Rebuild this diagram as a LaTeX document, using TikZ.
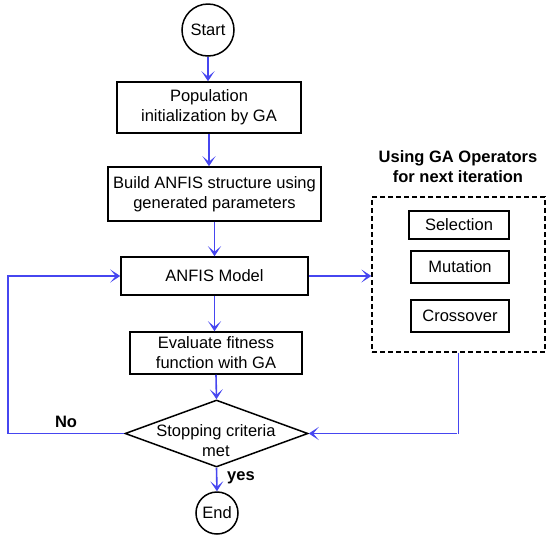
\documentclass[tikz,border=0pt]{standalone}
\usepackage{fontspec}
\setmainfont{Liberation Sans}
\usetikzlibrary{shapes.geometric,arrows.meta}
\definecolor{arrowblue}{RGB}{70,70,240}
\tikzset{
  box/.style={draw=black, line width=1.5pt, rectangle, inner sep=0pt, align=center,
    font=\fontsize{16.5}{20}\selectfont},
  term/.style={draw=black, line width=1.5pt, circle, inner sep=0pt,
    font=\fontsize{16.5}{20}\selectfont},
  lbl/.style={font=\fontsize{16.5}{20}\selectfont, align=center, inner sep=0pt},
  blbl/.style={font=\bfseries\fontsize{16.5}{20}\selectfont, align=center, inner sep=0pt},
  flow/.style={draw=arrowblue, line width=1.6pt, -{Stealth[length=10pt,width=13pt,inset=5.5pt]}},
  plain/.style={draw=arrowblue, line width=1.6pt}
}
\begin{document}
\begin{tikzpicture}[x=1pt,y=-1pt]
\useasboundingbox (0,0) rectangle (550,539);
% main column
\node[term, minimum size=52pt] (start) at (208,30) {Start};
\node[box, minimum width=184pt, minimum height=51pt] (b1) at (209,107.5) {Population\\initialization by GA};
\node[box, minimum width=213pt, minimum height=54pt] (b2) at (214.5,194) {Build ANFIS structure using\\generated parameters};
\node[box, minimum width=187pt, minimum height=38pt] (anfis) at (214.5,276) {ANFIS Model};
\node[box, minimum width=172pt, minimum height=42pt] (eval) at (216,353) {Evaluate fitness\\function with GA};
\node[draw=black, line width=1.5pt, diamond, inner sep=0pt, minimum width=183pt, minimum height=67pt] (dec) at (216.5,433.5) {};
\node[lbl] (dect) at (216,441) {Stopping criteria\\met};
\node[term, minimum size=42pt] (end) at (217,513) {End};
% operators
\node[blbl] (title) at (458,166.5) {Using GA Operators\\for next iteration};
\node[draw=black, line width=1.3pt, dash pattern=on 5pt off 3pt, rectangle, minimum width=173pt, minimum height=155pt, inner sep=0pt] (ops) at (458.5,274.5) {};
\node[box, minimum width=100pt, minimum height=28pt] (sel) at (459,225) {Selection};
\node[box, minimum width=98pt, minimum height=32pt] (mut) at (460,267) {Mutation};
\node[box, minimum width=98pt, minimum height=32pt] (cro) at (460,316) {Crossover};
% labels
\node[blbl] (no) at (66,422) {No};
\node[blbl] (yes) at (241,478) {yes};
% connectors
\draw[flow] (start.south) -- (start.south |- b1.north);
\draw[flow] (b1.south) -- (b1.south |- b2.north);
\draw[flow] (b2.south) -- (b2.south |- anfis.north);
\draw[flow] (anfis.south) -- (anfis.south |- eval.north);
\draw[flow] (eval.south) -- (dec.north);
\draw[flow] (dec.south) -- (end.north);
\coordinate (lc) at (8,433.5);
\draw[plain] (dec.west) -- (lc);
\draw[flow] (lc) |- (anfis.west);
\draw[flow] (anfis.east) -- (anfis.east -| ops.west);
\coordinate (rc) at (457,433.5);
\draw[plain] (rc -| ops.south) -- (ops.south);
\draw[flow] (rc) -- (dec.east);
\end{tikzpicture}
\end{document}
